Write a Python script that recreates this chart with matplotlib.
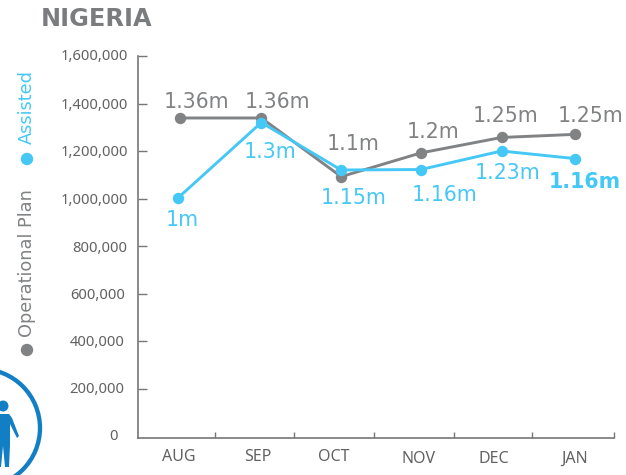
import matplotlib
matplotlib.use("Agg")
import matplotlib.pyplot as plt
from matplotlib.patches import Circle, Polygon
from matplotlib.transforms import ScaledTranslation
from matplotlib.ticker import FuncFormatter

months = ["AUG", "SEP", "OCT", "NOV", "DEC", "JAN"]
operational_plan = [1339000, 1339000, 1092000, 1192000, 1257000, 1270000]
assisted = [1004000, 1320000, 1120000, 1122000, 1200000, 1168000]
plan_labels = ["1.36m", "1.36m", "1.1m", "1.2m", "1.25m", "1.25m"]
assisted_labels = ["1m", "1.3m", "1.15m", "1.16m", "1.23m", "1.16m"]
y_ticks = [0, 200000, 400000, 600000, 800000, 1000000, 1200000, 1400000, 1600000]

W, H = 626, 475
GRAY = "#808284"
BLUE = "#45c8f5"
TXT = "#626262"
AX = "#777777"

fig = plt.figure(figsize=(W / 100, H / 100), dpi=100)
plt.rcParams["font.family"] = "DejaVu Sans"

# background layer in pixel coordinates for the icon and side legend
bg = fig.add_axes([0, 0, 1, 1])
bg.set_xlim(0, W)
bg.set_ylim(H, 0)
bg.axis("off")
bg.add_patch(Circle((-19, 428), 59, fill=False, ec="#127fc4", lw=3.1))
bg.add_patch(Circle((3, 406), 5.5, fc="#127fc4", ec="none"))
bg.add_patch(Polygon([(-6, 414), (9, 414), (12, 418), (19, 436), (17, 438),
                      (10, 424), (10, 445), (9, 467), (5, 467), (3, 446),
                      (1, 467), (-6, 467)], fc="#127fc4", ec="none"))
bg.add_patch(Circle((27, 350), 6.2, fc=GRAY, ec="none"))
bg.add_patch(Circle((27, 159), 6.2, fc=BLUE, ec="none"))
bg.text(27, 337, "Operational Plan", rotation=90, ha="center", va="bottom",
        color=GRAY, fontsize=12.8)
bg.text(27, 144, "Assisted", rotation=90, ha="center", va="bottom",
        color=BLUE, fontsize=12.8)
bg.text(41, 19, "NIGERIA", ha="left", va="center", color="#7a7c7e",
        fontsize=17.3, fontweight="bold")

# main chart
left, right, top, bottom = 138, 614, 56, 438
ax = fig.add_axes([left / W, 1 - bottom / H, (right - left) / W, (bottom - top) / H])
ax.patch.set_alpha(0)
step = 79.0
ax.set_xlim((left - 180) / step, (right - 180) / step)
px_per_val = 47.5 / 200000
ax.set_ylim(-(bottom - 436) / px_per_val, 1600000)

xs = list(range(len(months)))
nudge = [0, 0.03, 0.04, 0.05, 0.07, 0]
x_plan = [a + b for a, b in zip(xs, nudge)]
x_assist = [a + b - (0.02 if i == 0 else 0) for i, (a, b) in enumerate(zip(xs, nudge))]

ax.plot(x_plan, operational_plan, color=GRAY, lw=2.1, marker="o", ms=8.2, mec="none", zorder=3, clip_on=False)
ax.plot(x_assist, assisted, color=BLUE, lw=2.1, marker="o", ms=8.2, mec="none", zorder=4, clip_on=False)

plan_off = [(17, 16), (16, 16), (12, 33), (12, 21), (4, 21), (16, 18)]
assist_off = [(4, -22), (9, -30), (12, -28), (24, -25), (6, -22), (10, -23)]
for i, (t, d) in enumerate(zip(plan_labels, plan_off)):
    ax.annotate(t, (x_plan[i], operational_plan[i]), xytext=(d[0] * .72, d[1] * .72),
                textcoords="offset points", ha="center", va="center", color=GRAY, fontsize=14.8, zorder=5)
for i, (t, d) in enumerate(zip(assisted_labels, assist_off)):
    last = i == len(assisted_labels) - 1
    ax.annotate(t, (x_assist[i], assisted[i]), xytext=(d[0] * .72, d[1] * .72),
                textcoords="offset points", ha="center", va="center", color=BLUE,
                fontsize=14.8, fontweight="bold" if last else "normal", zorder=5)

for s in ("top", "right"):
    ax.spines[s].set_visible(False)
for s in ("left", "bottom"):
    ax.spines[s].set_color(AX)
    ax.spines[s].set_linewidth(1.2)

ax.set_yticks(y_ticks)
ax.yaxis.set_major_formatter(FuncFormatter(lambda v, _: f"{int(v):,}"))
ax.tick_params(axis="y", direction="in", length=6.5, width=1, color=AX, pad=7,
               labelcolor=TXT, labelsize=10.6)
ax.get_yticklines()[0].set_visible(False)
y_shift = [(-11, 2), (-4, 1), (-4, 0), (-3, 0), (-1, 0), (0, 0), (0, 0), (0, 0), (0, 1)]
for lab, (dx, dy) in zip(ax.get_yticklabels(), y_shift):
    lab.set_fontfamily("Noto Sans")
    lab.set_transform(lab.get_transform() + ScaledTranslation(dx / 100, dy / 100, fig.dpi_scale_trans))

ax.set_xticks(xs)
ax.set_xticklabels(months)
ax.set_xticks([0.443, 1.443, 2.456, 3.468, 4.456, 5.494], minor=True)
ax.tick_params(axis="x", which="major", length=0, pad=7, labelcolor=TXT, labelsize=11.5)
ax.tick_params(axis="x", which="minor", direction="in", length=4, width=1, color=AX)
label_shift = [(-1, -1), (-1.5, -1), (-4, -1), (1.5, -3), (-2, -3), (0, -3)]
for lab, (dx, dy) in zip(ax.get_xticklabels(), label_shift):
    lab.set_fontfamily("Noto Sans")
    lab.set_transform(lab.get_transform() + ScaledTranslation(dx / 100, dy / 100, fig.dpi_scale_trans))

fig.savefig("out.png", dpi=100)
